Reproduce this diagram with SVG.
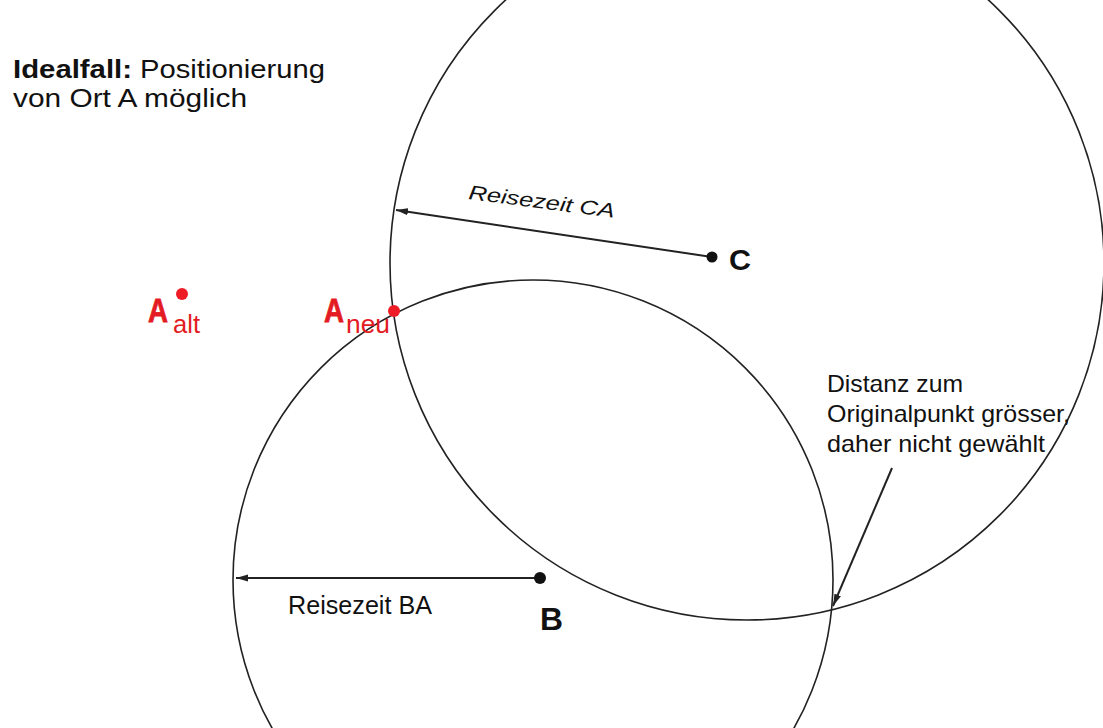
<svg xmlns="http://www.w3.org/2000/svg" width="1103" height="728" viewBox="0 0 1103 728">
  <defs>
    <style>
      .txt { font-family: "Liberation Sans", Arial, sans-serif; fill: #111; }
      .bold { font-weight: bold; }
      .red { fill: #e31b23; }
      .heavy { stroke: #e31b23; stroke-width: 0.8; }
      .circ { fill: none; stroke: #222; stroke-width: 1.6; }
      .arrow { fill: none; stroke: #222; stroke-width: 2; }
      .dot { fill: #111; }
      .rdot { fill: #ee1c24; }
    </style>
    <marker id="ah" markerUnits="userSpaceOnUse" markerWidth="12" markerHeight="8" refX="12" refY="4" orient="auto">
      <path d="M0,0.5 L12,4 L0,7.5 z" fill="#222"/>
    </marker>
  </defs>
  <rect width="1103" height="728" fill="#ffffff"/>

  <g id="circles">
    <circle id="circle-C" class="circ" cx="747" cy="263" r="357"/>
    <circle id="circle-B" class="circ" cx="533" cy="580" r="300"/>
  </g>

  <g id="connectors">
    <line class="arrow" x1="712" y1="257" x2="396" y2="210" marker-end="url(#ah)"/>
    <line class="arrow" x1="540" y1="578" x2="236" y2="578" marker-end="url(#ah)"/>
    <line class="arrow" x1="892" y1="468" x2="833" y2="606" stroke-width="1.6" marker-end="url(#ah)"/>
  </g>

  <g id="title">
    <text class="txt bold" x="13" y="78" font-size="26" textLength="119" lengthAdjust="spacingAndGlyphs">Idealfall:</text>
    <text class="txt" x="140" y="78" font-size="26" textLength="185" lengthAdjust="spacingAndGlyphs">Positionierung</text>
    <text class="txt" x="13" y="107" font-size="26" textLength="234" lengthAdjust="spacingAndGlyphs">von Ort A möglich</text>
  </g>

  <g id="node-A-alt">
    <circle class="rdot" cx="182" cy="294" r="6"/>
    <text class="txt bold red heavy" x="148" y="322" font-size="33" textLength="20" lengthAdjust="spacingAndGlyphs">A</text>
    <text class="txt red" x="173" y="333" font-size="26" textLength="27" lengthAdjust="spacingAndGlyphs">alt</text>
  </g>

  <g id="node-A-neu">
    <text class="txt bold red heavy" x="324" y="322" font-size="33" textLength="20" lengthAdjust="spacingAndGlyphs">A</text>
    <text class="txt red" x="346" y="333" font-size="26" textLength="44" lengthAdjust="spacingAndGlyphs">neu</text>
    <circle class="rdot" cx="394" cy="311" r="6"/>
  </g>

  <g id="node-C">
    <circle class="dot" cx="712" cy="257" r="5.5"/>
    <text class="txt bold" x="729" y="270" font-size="29" textLength="22" lengthAdjust="spacingAndGlyphs">C</text>
  </g>

  <g id="node-B">
    <circle class="dot" cx="540" cy="578" r="6"/>
    <text class="txt bold" x="540" y="630" font-size="32" textLength="23" lengthAdjust="spacingAndGlyphs">B</text>
  </g>

  <g id="labels">
    <text class="txt" font-size="20" font-style="italic" transform="translate(468,199) rotate(7.3)" textLength="147" lengthAdjust="spacingAndGlyphs">Reisezeit CA</text>
    <text class="txt" x="288" y="614" font-size="25" textLength="144" lengthAdjust="spacingAndGlyphs">Reisezeit BA</text>
    <text class="txt" x="827" y="392" font-size="24" textLength="136" lengthAdjust="spacingAndGlyphs">Distanz zum</text>
    <text class="txt" x="827" y="422" font-size="24" textLength="243" lengthAdjust="spacingAndGlyphs">Originalpunkt grösser,</text>
    <text class="txt" x="827" y="452" font-size="24" textLength="218" lengthAdjust="spacingAndGlyphs">daher nicht gewählt</text>
  </g>
</svg>
